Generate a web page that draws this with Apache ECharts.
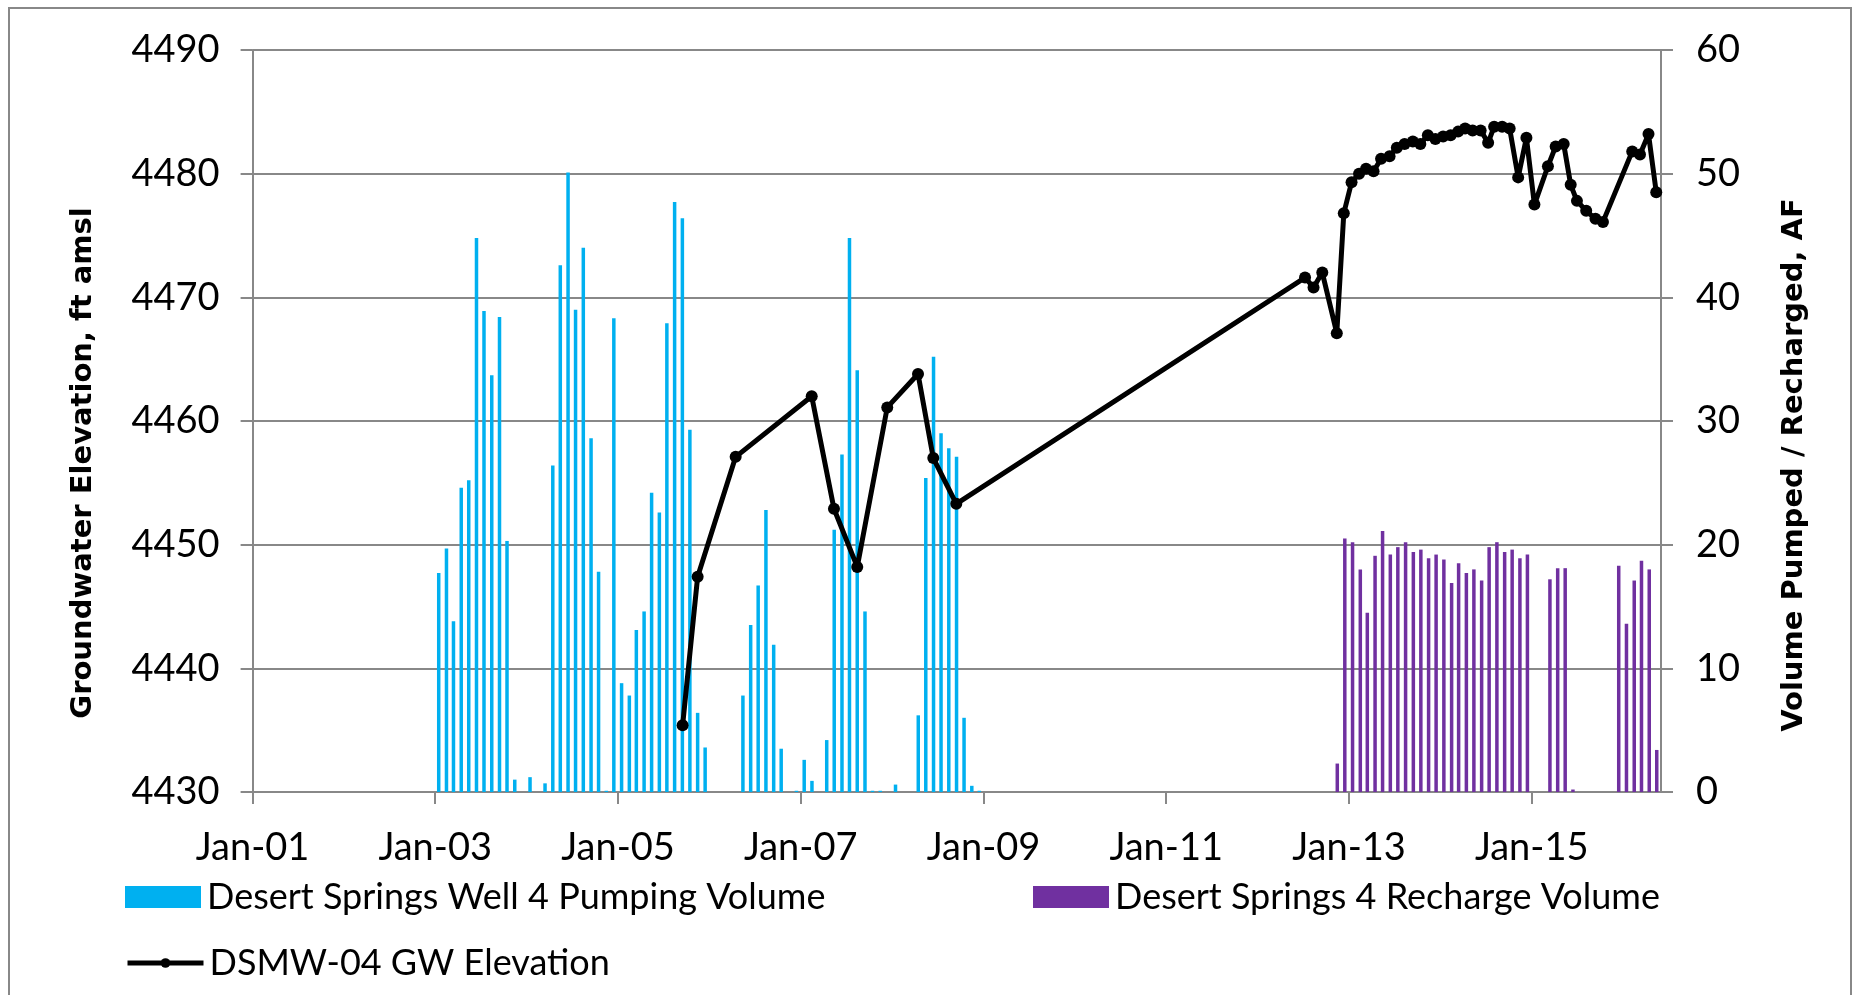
<!DOCTYPE html>
<html>
<head>
<meta charset="utf-8">
<title>DSMW-04 Groundwater Elevation and Desert Springs Well 4 Volumes</title>
<script src="https://cdn.jsdelivr.net/npm/echarts@6/dist/echarts.min.js"></script>
<style>
  html, body { margin: 0; padding: 0; background: #ffffff; }
  #chart { width: 1857px; height: 995px; }
</style>
</head>
<body>
<div id="chart"></div>
<script>
// ---- Monthly pumping volume, Desert Springs Well 4 (AF) ----
const pumpMonths = [
  '2003-01','2003-02','2003-03','2003-04','2003-05','2003-06','2003-07','2003-08','2003-09','2003-10','2003-11','2003-12',
  '2004-01','2004-02','2004-03','2004-04','2004-05','2004-06','2004-07','2004-08','2004-09','2004-10','2004-11','2004-12',
  '2005-01','2005-02','2005-03','2005-04','2005-05','2005-06','2005-07','2005-08','2005-09','2005-10','2005-11','2005-12',
  '2006-01','2006-02','2006-03','2006-04','2006-05','2006-06','2006-07','2006-08','2006-09','2006-10','2006-11','2006-12',
  '2007-01','2007-02','2007-03','2007-04','2007-05','2007-06','2007-07','2007-08','2007-09','2007-10','2007-11','2007-12',
  '2008-01','2008-02','2008-03','2008-04','2008-05','2008-06','2008-07','2008-08','2008-09','2008-10','2008-11','2008-12'
];
const pumpVolumes = [
  17.7, 19.7, 13.8, 24.6, 25.2, 44.8, 38.9, 33.7, 38.4, 20.3, 1.0, 0,
  1.2, 0, 0.7, 26.4, 42.6, 50.1, 39.0, 44.0, 28.6, 17.8, 0.1, 38.3,
  8.8, 7.8, 13.1, 14.6, 24.2, 22.6, 37.9, 47.7, 46.4, 29.3, 6.4, 3.6,
  0, 0, 0, 0, 7.8, 13.5, 16.7, 22.8, 11.9, 3.5, 0, 0.1,
  2.6, 0.9, 0, 4.2, 21.2, 27.3, 44.8, 34.1, 14.6, 0.1, 0.1, 0,
  0.6, 0, 0, 6.2, 25.4, 35.2, 29.0, 27.8, 27.1, 6.0, 0.5, 0.1
];

// ---- Monthly recharge volume, Desert Springs 4 (AF) ----
const rechargeMonths = [
  '2012-11','2012-12',
  '2013-01','2013-02','2013-03','2013-04','2013-05','2013-06','2013-07','2013-08','2013-09','2013-10','2013-11','2013-12',
  '2014-01','2014-02','2014-03','2014-04','2014-05','2014-06','2014-07','2014-08','2014-09','2014-10','2014-11','2014-12',
  '2015-01','2015-02','2015-03','2015-04','2015-05','2015-06','2015-07','2015-08','2015-09','2015-10','2015-11','2015-12',
  '2016-01','2016-02','2016-03','2016-04','2016-05'
];
const rechargeVolumes = [
  2.3, 20.5,
  20.2, 18.0, 14.5, 19.1, 21.1, 19.2, 19.8, 20.2, 19.4, 19.6, 18.9, 19.2,
  18.8, 16.9, 18.5, 17.7, 18.0, 17.1, 19.8, 20.2, 19.4, 19.6, 18.9, 19.2,
  0, 0, 17.2, 18.1, 18.1, 0.2, 0, 0, 0, 0, 0, 18.3,
  13.6, 17.1, 18.7, 18.0, 3.4
];

// ---- DSMW-04 groundwater elevation measurements (ft amsl) ----
const elevDates = [
  '2005-09-16','2005-11-15','2006-04-16','2007-02-14','2007-05-14','2007-08-15','2007-12-13',
  '2008-04-14','2008-06-14','2008-09-14',
  '2012-07-09','2012-08-12','2012-09-16','2012-11-13','2012-12-11',
  '2013-01-11','2013-02-10','2013-03-10','2013-04-09','2013-05-09','2013-06-12','2013-07-11',
  '2013-08-11','2013-09-13','2013-10-13','2013-11-12','2013-12-12',
  '2014-01-12','2014-02-11','2014-03-13','2014-04-10','2014-05-10','2014-06-11','2014-07-11',
  '2014-08-04','2014-09-05','2014-10-05','2014-11-08','2014-12-11',
  '2015-01-12','2015-03-07','2015-04-07','2015-05-09','2015-06-06','2015-07-01','2015-08-07',
  '2015-09-13','2015-10-13',
  '2016-02-07','2016-03-09','2016-04-12','2016-05-13'
];
const elevValues = [
  4435.4, 4447.4, 4457.1, 4462.0, 4452.9, 4448.2, 4461.1,
  4463.8, 4457.0, 4453.3,
  4471.6, 4470.8, 4472.0, 4467.1, 4476.8,
  4479.3, 4480.0, 4480.4, 4480.2, 4481.2, 4481.4, 4482.1,
  4482.4, 4482.6, 4482.4, 4483.1, 4482.8,
  4483.0, 4483.1, 4483.4, 4483.65, 4483.5, 4483.5, 4482.5,
  4483.8, 4483.8, 4483.65, 4479.7, 4482.9,
  4477.5, 4480.6, 4482.2, 4482.4, 4479.1, 4477.8, 4477.0,
  4476.35, 4476.1,
  4481.8, 4481.55, 4483.2, 4478.5
];

// ---- Date axis: tick years and displayed range ----
const xTickYears = [2001, 2003, 2005, 2007, 2009, 2011, 2013, 2015];
const xRange = ['2001-01-01', '2016-06-01'];

const seriesNames = {
  pump: 'Desert Springs Well 4 Pumping Volume',
  recharge: 'Desert Springs 4 Recharge Volume',
  elev: 'DSMW-04 GW Elevation'
};

// Dates are plotted as day counts from the start of the axis range.
const DAY = 86400000;
const ORIGIN = Date.UTC(2001, 0, 1);
function dayOf(s) {
  const p = s.split('-').map(Number);
  return (Date.UTC(p[0], p[1] - 1, p.length > 2 ? p[2] : 15) - ORIGIN) / DAY;
}
function labelOf(day) {
  const d = new Date(ORIGIN + Math.round(day) * DAY);
  return 'Jan-' + String(d.getUTCFullYear()).slice(2);
}

const pumpData = pumpMonths.map((m, i) => [dayOf(m), pumpVolumes[i]]);
const rechargeData = rechargeMonths.map((m, i) => [dayOf(m), rechargeVolumes[i]]);
const elevData = elevDates.map((d, i) => [dayOf(d), elevValues[i]]);
const xTicks = xTickYears.map(y => dayOf(y + '-01-01'));

const GRID = '#888888';
const tickFont = { fontFamily: 'Lato', fontSize: 38, color: '#000000' };
const legendText = { fontFamily: 'Lato', fontSize: 36, color: '#000000', padding: [0, 0, 0, 1] };
const titleFont = 'bold 29px "DejaVu Sans"';

const chart = echarts.init(document.getElementById('chart'), null, { renderer: 'canvas' });

chart.setOption({
  animation: false,
  backgroundColor: '#ffffff',
  grid: { left: 252.6, right: 196, top: 50, bottom: 203, containLabel: false },
  xAxis: {
    type: 'value',
    min: dayOf(xRange[0]),
    max: dayOf(xRange[1]),
    axisLine: { show: true, onZero: false, lineStyle: { color: GRID, width: 2 } },
    axisTick: { show: true, length: 12, customValues: xTicks, lineStyle: { color: GRID, width: 2 } },
    axisLabel: {
      show: true,
      customValues: xTicks,
      margin: 37,
      ...tickFont,
      formatter: v => labelOf(v)
    },
    splitLine: { show: false }
  },
  yAxis: [
    {
      type: 'value',
      position: 'left',
      min: 4430, max: 4490, interval: 10,
      axisLine: { show: true, lineStyle: { color: GRID, width: 2 } },
      axisTick: { show: true, length: 12, lineStyle: { color: GRID, width: 2 } },
      axisLabel: { margin: 33, ...tickFont, formatter: v => String(v) },
      splitLine: { show: true, lineStyle: { color: GRID, width: 2 } }
    },
    {
      type: 'value',
      position: 'right',
      min: 0, max: 60, interval: 10,
      axisLine: { show: true, lineStyle: { color: GRID, width: 2 } },
      axisTick: { show: true, length: 12, lineStyle: { color: GRID, width: 2 } },
      axisLabel: { margin: 35, ...tickFont, formatter: v => String(v) },
      splitLine: { show: false }
    }
  ],
  legend: [
    {
      data: [{ name: seriesNames.pump, icon: 'rect' }],
      left: 120, top: 874, itemWidth: 76, itemHeight: 22,
      selectedMode: false, textStyle: legendText
    },
    {
      data: [{ name: seriesNames.recharge, icon: 'rect' }],
      left: 1028, top: 874, itemWidth: 76, itemHeight: 22,
      selectedMode: false, textStyle: legendText
    },
    {
      data: [{ name: seriesNames.elev }],
      left: 120, top: 940, itemWidth: 76, itemHeight: 12,
      selectedMode: false, textStyle: legendText,
      lineStyle: { width: 5, color: '#000000' }
    }
  ],
  graphic: [
    {
      type: 'rect', silent: true, z: -1,
      shape: { x: 9, y: 8, width: 1842, height: 1100 },
      style: { fill: 'none', stroke: GRID, lineWidth: 2 }
    },
    {
      type: 'text', silent: true,
      x: 83, y: 463, rotation: Math.PI / 2,
      style: { text: 'Groundwater Elevation, ft amsl', font: titleFont, fill: '#000000', align: 'center', verticalAlign: 'middle' }
    },
    {
      type: 'text', silent: true,
      x: 1794, y: 465, rotation: Math.PI / 2,
      style: { text: 'Volume Pumped / Recharged, AF', font: titleFont, fill: '#000000', align: 'center', verticalAlign: 'middle' }
    }
  ],
  series: [
    {
      name: seriesNames.pump,
      type: 'bar',
      yAxisIndex: 1,
      data: pumpData,
      barWidth: 3.5,
      barGap: '-100%',
      itemStyle: { color: '#00B0F0' },
      z: 2
    },
    {
      name: seriesNames.recharge,
      type: 'bar',
      yAxisIndex: 1,
      data: rechargeData,
      barWidth: 3.5,
      barGap: '-100%',
      itemStyle: { color: '#7030A0' },
      z: 2
    },
    {
      name: seriesNames.elev,
      type: 'line',
      yAxisIndex: 0,
      data: elevData,
      symbol: 'circle',
      symbolSize: 12,
      showSymbol: true,
      lineStyle: { color: '#000000', width: 5 },
      itemStyle: { color: '#000000' },
      z: 5
    }
  ]
});
</script>
</body>
</html>
